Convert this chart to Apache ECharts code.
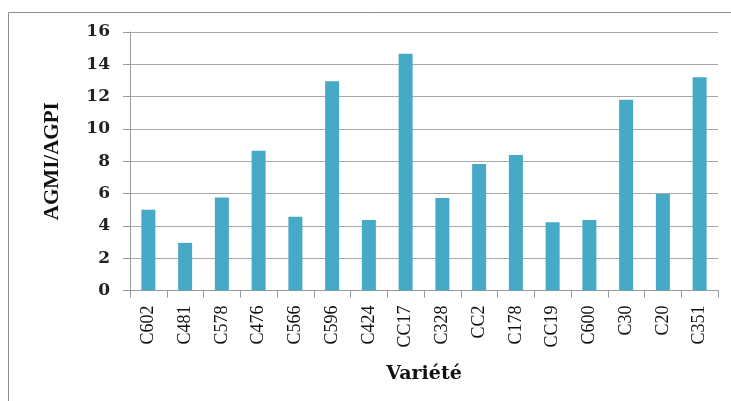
<!DOCTYPE html>
<html>
<head>
<meta charset="utf-8">
<script src="https://cdn.jsdelivr.net/npm/echarts@6/dist/echarts.min.js"></script>
<style>
  html, body { margin: 0; padding: 0; background: #ffffff; }
  #chart { width: 731px; height: 401px; }
</style>
</head>
<body>
<div id="chart"></div>
<script>
// Varieties and their AGMI/AGPI ratio
const varieties = ['C602', 'C481', 'C578', 'C476', 'C566', 'C596', 'C424', 'CC17',
                   'C328', 'CC2', 'C178', 'CC19', 'C600', 'C30', 'C20', 'C351'];
const ratioValues = [5.0, 2.95, 5.75, 8.65, 4.57, 12.95, 4.36, 14.65,
                     5.72, 7.83, 8.38, 4.22, 4.36, 11.8, 5.97, 13.2];
const yTicks = { min: 0, max: 16, step: 2 };
const yAxisTitle = 'AGMI/AGPI';
const xAxisTitle = 'Variété';

const chart = echarts.init(document.getElementById('chart'), null, { renderer: 'canvas' });

chart.setOption({
  backgroundColor: '#ffffff',
  animation: false,
  graphic: [{
    type: 'rect',
    shape: { x: 8.5, y: 12.5, width: 900, height: 600 },
    style: { fill: 'none', stroke: '#8e8e8e', lineWidth: 1 },
    silent: true,
    z: -1
  }],
  grid: { left: 130, right: 13, top: 32, bottom: 110.5 },
  xAxis: {
    type: 'category',
    data: varieties,
    name: xAxisTitle,
    nameLocation: 'middle',
    nameGap: 74,
    nameTextStyle: {
      fontFamily: 'DejaVu Serif', fontWeight: 'bold', fontSize: 19, color: '#111111'
    },
    axisLine: { show: true, lineStyle: { color: '#9a9a9a', width: 1 } },
    axisTick: { show: true, length: 7, lineStyle: { color: '#9a9a9a' } },
    axisLabel: {
      rotate: 90,
      margin: 15,
      fontFamily: 'Liberation Serif',
      fontSize: 18,
      color: '#111111'
    },
    splitLine: { show: false }
  },
  yAxis: {
    type: 'value',
    min: yTicks.min,
    max: yTicks.max,
    interval: yTicks.step,
    name: yAxisTitle,
    nameLocation: 'middle',
    nameGap: 67,
    nameRotate: 90,
    nameTextStyle: {
      fontFamily: 'Liberation Serif', fontWeight: 'bold', fontSize: 21, color: '#111111'
    },
    axisLine: { show: true, lineStyle: { color: '#9a9a9a', width: 1 } },
    axisTick: { show: true, length: 7, lineStyle: { color: '#9a9a9a' } },
    axisLabel: {
      margin: 20,
      fontFamily: 'DejaVu Serif',
      fontWeight: 'bold',
      fontSize: 17,
      color: '#222222'
    },
    splitLine: { show: true, lineStyle: { color: '#a8a8a8', width: 1 } }
  },
  series: [{
    type: 'bar',
    data: ratioValues,
    barWidth: 14,
    itemStyle: { color: '#46a9c5' }
  }]
});
</script>
</body>
</html>
